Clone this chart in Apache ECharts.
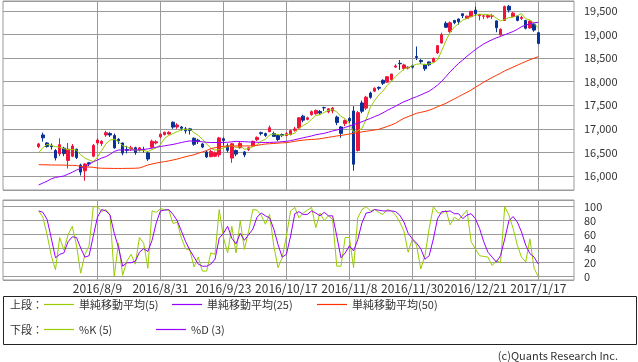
<!DOCTYPE html>
<html><head><meta charset="utf-8">
<script src="https://cdn.jsdelivr.net/npm/echarts@6/dist/echarts.min.js"></script>
<style>html,body{margin:0;padding:0;background:#fff}#c{width:638px;height:362px}</style>
</head><body><div id="c"></div>
<script>
const dates = ['2016/7/20','2016/7/21','2016/7/22','2016/7/25','2016/7/26','2016/7/27','2016/7/28','2016/7/29','2016/8/1','2016/8/2','2016/8/3','2016/8/4','2016/8/5','2016/8/8','2016/8/9','2016/8/10','2016/8/12','2016/8/15','2016/8/16','2016/8/17','2016/8/18','2016/8/19','2016/8/22','2016/8/23','2016/8/24','2016/8/25','2016/8/26','2016/8/29','2016/8/30','2016/8/31','2016/9/1','2016/9/2','2016/9/5','2016/9/6','2016/9/7','2016/9/8','2016/9/9','2016/9/12','2016/9/13','2016/9/14','2016/9/15','2016/9/16','2016/9/20','2016/9/21','2016/9/23','2016/9/26','2016/9/27','2016/9/28','2016/9/29','2016/9/30','2016/10/3','2016/10/4','2016/10/5','2016/10/6','2016/10/7','2016/10/11','2016/10/12','2016/10/13','2016/10/14','2016/10/17','2016/10/18','2016/10/19','2016/10/20','2016/10/21','2016/10/24','2016/10/25','2016/10/26','2016/10/27','2016/10/28','2016/10/31','2016/11/1','2016/11/2','2016/11/4','2016/11/7','2016/11/8','2016/11/9','2016/11/10','2016/11/11','2016/11/14','2016/11/15','2016/11/16','2016/11/17','2016/11/18','2016/11/21','2016/11/22','2016/11/24','2016/11/25','2016/11/28','2016/11/29','2016/11/30','2016/12/1','2016/12/2','2016/12/5','2016/12/6','2016/12/7','2016/12/8','2016/12/9','2016/12/12','2016/12/13','2016/12/14','2016/12/15','2016/12/16','2016/12/19','2016/12/20','2016/12/21','2016/12/22','2016/12/26','2016/12/27','2016/12/28','2016/12/29','2016/12/30','2017/1/4','2017/1/5','2017/1/6','2017/1/10','2017/1/11','2017/1/12','2017/1/13','2017/1/16','2017/1/17'];

const opens = [16625,16870,16700,16640,16540,16470,16590,16330,16420,16570,
16230,16110,16280,16420,16700,16690,16870,16900,16860,16780,
16700,16560,16580,16600,16560,16560,16490,16610,16700,16830,
16880,16890,17140,17040,17040,17000,17000,16800,16760,16680,
16510,16410,16420,16450,16790,16640,16380,16540,16600,16510,
16560,16640,16770,16920,16900,16940,16900,16860,16880,16860,
16880,16970,17020,17270,17200,17300,17320,17370,17450,17360,
17380,17250,17040,17110,17220,17380,16540,17550,17440,17760,
17800,17880,18030,17990,18040,18310,18390,18280,18290,18340,
18535,18450,18360,18420,18420,18610,18820,19240,19060,19300,
19330,19440,19340,19380,19520,19400,19390,19370,19390,19290,
18990,19298,19600,19380,19390,19340,19300,19140,19220,19040];

const closes = [16681,16810,16627,16620,16383,16664,16476,16569,16635,16391,
16083,16254,16254,16650,16764,16735,16919,16869,16596,16745,
16486,16545,16598,16497,16597,16555,16360,16737,16725,16887,
16926,16925,17037,17081,17012,16958,16965,16672,16729,16614,
16405,16519,16492,16807,16754,16544,16683,16465,16693,16449,
16598,16735,16819,16899,16860,17024,16840,16774,16856,16900,
16963,16998,17235,17184,17234,17365,17391,17336,17446,17425,
17442,17134,16905,17177,17171,16251,17344,17374,17672,17668,
17862,17862,17967,18106,18162,18333,18381,18356,18307,18308,
18513,18426,18274,18360,18496,18765,18996,19155,19250,19253,
19273,19401,19391,19494,19444,19427,19396,19403,19401,19145,
19114,19594,19520,19454,19301,19364,19134,19287,19095,18813];

const lows = [16590,16730,16600,16560,16330,16420,16420,16160,16400,16360,
16010,15900,16210,16400,16660,16640,16830,16830,16580,16680,
16440,16480,16530,16450,16520,16500,16320,16600,16670,16800,
16860,16880,17000,17000,16960,16900,16880,16640,16680,16590,
16380,16400,16400,16400,16650,16500,16280,16420,16580,16400,
16530,16620,16740,16860,16830,16930,16830,16740,16830,16840,
16860,16940,17000,17140,17180,17280,17300,17300,17380,17330,
17330,17080,16810,17060,17130,16111,16520,17330,17400,17640,
17780,17820,17930,17980,18020,18290,18250,18240,18260,18280,
18460,18380,18230,18330,18400,18590,18810,19140,19040,19220,
19210,19350,19330,19370,19400,19300,19330,19340,19330,19050,
18980,19290,19470,19370,19280,19310,19110,19120,19060,18790];

const highs = [16700,16920,16720,16690,16570,16800,16620,16700,16680,16580,
16260,16270,16300,16680,16800,16760,16960,16930,16900,16800,
16710,16640,16640,16620,16610,16620,16520,16770,16760,16900,
16940,16950,17160,17120,17060,17040,17020,16820,16790,16700,
16540,16560,16520,16830,16820,16690,16700,16560,16720,16530,
16620,16750,16840,16940,16920,17070,16940,16880,16900,16930,
16980,17040,17250,17300,17260,17390,17410,17400,17470,17440,
17460,17280,17060,17200,17250,17480,17380,17600,17700,17790,
17880,17900,18050,18120,18170,18370,18460,18380,18330,18360,
18746,18480,18380,18430,18510,18780,19040,19280,19280,19310,
19340,19450,19400,19500,19592,19440,19420,19430,19440,19300,
19130,19615,19630,19480,19400,19400,19310,19300,19240,19050];

const ma5 = [16495,16600,16670,16650,16620,16610,16580,16560,16560,16550,
16450,16380,16340,16305,16400,16540,16680,16760,16780,16730,
16640,16620,16570,16550,16545,16540,16520,16560,16600,16660,
16800,16860,16900,16940,16980,16990,16990,16920,16860,16780,
16680,16590,16550,16560,16600,16620,16650,16600,16630,16570,
16580,16620,16660,16740,16780,16870,16890,16880,16860,16880,
16880,16910,17010,17070,17120,17200,17280,17300,17350,17390,
17410,17360,17260,17220,17110,16930,16960,17010,17200,17460,
17600,17720,17800,17920,18010,18110,18190,18270,18300,18340,
18370,18380,18360,18380,18400,18460,18660,18870,19050,19160,
19230,19310,19340,19380,19410,19430,19430,19420,19410,19350,
19290,19320,19360,19370,19400,19445,19335,19310,19236,19139];

const ma25 = [15810,15850,15890,15940,15970,15985,16000,16040,16080,16125,
16160,16200,16250,16300,16340,16380,16410,16460,16520,16550,
16552,16552,16552,16552,16555,16565,16575,16590,16610,16625,
16640,16655,16670,16690,16710,16730,16743,16740,16735,16725,
16715,16710,16710,16710,16712,16715,16725,16735,16732,16728,
16722,16720,16716,16712,16710,16712,16716,16720,16728,16735,
16750,16770,16790,16810,16830,16850,16875,16890,16905,16930,
16955,16976,17000,17030,17061,17090,17120,17150,17188,17220,
17260,17294,17340,17390,17436,17480,17530,17576,17610,17650,
17682,17720,17760,17800,17860,17930,18010,18110,18210,18300,
18390,18460,18540,18610,18680,18743,18800,18849,18890,18930,
18960,18995,19030,19065,19110,19167,19200,19230,19250,19260];

const ma50 = [16240,16238,16236,16234,16232,16232,16230,16228,16226,16222,
16200,16195,16190,16185,16170,16165,16163,16162,16160,16160,
16160,16162,16163,16165,16170,16200,16234,16255,16275,16290,
16305,16320,16340,16360,16385,16410,16430,16450,16482,16510,
16540,16580,16600,16620,16630,16635,16637,16637,16637,16637,
16637,16640,16650,16665,16679,16685,16690,16697,16703,16707,
16720,16735,16749,16760,16770,16775,16780,16790,16805,16820,
16835,16849,16860,16875,16890,16905,16919,16935,16950,16962,
16975,16990,17020,17050,17082,17120,17175,17224,17260,17295,
17330,17350,17370,17395,17430,17470,17505,17542,17590,17635,
17682,17730,17775,17824,17880,17935,17990,18040,18090,18135,
18180,18230,18270,18310,18350,18390,18430,18465,18500,18531];

const stochK = [94,85,60,30,10,56,38,60,72,45,
5,32,44,100,100,93,96,88,1,48,
2,22,32,18,56,48,12,94,92,97,
96,95,76,78,55,40,38,14,28,8,
8,34,32,96,56,34,72,34,80,39,
65,96,95,88,75,89,44,13,27,58,
94,99,84,91,95,99,70,91,80,87,
82,15,15,56,56,13,84,96,100,94,
96,92,89,96,94,88,78,65,35,54,
45,11,30,69,100,92,90,95,74,85,
81,88,95,50,40,30,29,28,16,23,
20,100,88,69,45,28,21,54,12,0];

const stochD = [94,92,82,55,27,32,34,50,57,56,
41,28,30,58,85,96,94,88,62,42,
15,20,20,22,35,40,36,52,77,94,
95,96,89,80,65,50,38,28,18,15,
15,18,25,55,62,72,55,47,62,52,
60,68,85,91,87,84,68,46,28,32,
58,90,93,89,89,94,91,87,92,87,
87,58,27,34,44,37,53,77,91,92,
96,95,94,94,94,93,88,78,62,54,
48,40,25,30,54,83,93,93,94,90,
90,83,88,90,83,69,50,35,28,21,
30,54,80,86,78,64,45,33,28,18];

const dateTickLabels = ['2016/8/9','2016/8/31','2016/9/23','2016/10/17','2016/11/8','2016/11/30','2016/12/21','2017/1/17'];
const upperNames = ['単純移動平均(5)','単純移動平均(25)','単純移動平均(50)'];
const lowerNames = ['%K (5)','%D (3)'];
const upperLabel = '上段：';
const lowerLabel = '下段：';
const copyright = '(c)Quants Research Inc.';

const PAD = 8;
const cats = [];
for (let i = 0; i < PAD; i++) cats.push('pre' + i);
dates.forEach(d => cats.push(d));
for (let i = 0; i < PAD; i++) cats.push('post' + i);

const FONT = "'Noto Sans CJK JP', 'Noto Sans', sans-serif";
const RED = '#f0143c', BLUE = '#0a3296';
const C5 = '#99cc00', C25 = '#9900ff', C50 = '#ff3300';
const GRIDC = '#9a9a9a';

const candleData = dates.map((d, i) => [d, opens[i], closes[i], lows[i], highs[i]]);
const pair = arr => dates.map((d, i) => [d, arr[i]]);
const vLines = {
  silent: true, symbol: 'none', z: 1, animation: false,
  label: { show: false },
  lineStyle: { color: GRIDC, width: 1, type: 'solid' },
  emphasis: { disabled: true },
  data: dateTickLabels.map(d => ({ xAxis: d }))
};

const chart = echarts.init(document.getElementById('c'), null, { renderer: 'canvas' });

const legendEls = [];
legendEls.push({ type: 'rect', shape: { x: 3.5, y: 296.5, width: 633, height: 48 }, style: { fill: 'none', stroke: '#222', lineWidth: 1 } });
const textEl = (x, y, t) => ({ type: 'text', x: x, y: y, style: { text: t, font: '11px ' + FONT, fill: '#333', textVerticalAlign: 'middle', verticalAlign: 'middle' } });
const lineEl = (x1, x2, y, c) => ({ type: 'line', shape: { x1: x1, y1: y, x2: x2, y2: y }, style: { stroke: c, lineWidth: 1.2 } });
const rowY1 = 304.5, rowY2 = 329.5;
legendEls.push(textEl(10, rowY1, upperLabel));
const upColors = [C5, C25, C50];
const upX = [44, 172, 317];
upperNames.forEach((n, i) => { legendEls.push(lineEl(upX[i], upX[i] + 30, rowY1, upColors[i])); legendEls.push(textEl(upX[i] + 35, rowY1, n)); });
legendEls.push(textEl(10, rowY2, lowerLabel));
const loColors = [C5, C25];
const loX = [44, 156];
lowerNames.forEach((n, i) => { legendEls.push(lineEl(loX[i], loX[i] + 30, rowY2, loColors[i])); legendEls.push(textEl(loX[i] + 35, rowY2, n)); });
legendEls.push({ type: 'text', x: 618, y: 356, style: { text: copyright, font: '11px ' + FONT, fill: '#333', align: 'right', textAlign: 'right', verticalAlign: 'middle', textVerticalAlign: 'middle' } });

const axisLabelStyle = { fontFamily: FONT, fontSize: 11, color: '#333' };

chart.setOption({
  animation: false,
  backgroundColor: '#fff',
  textStyle: { fontFamily: FONT },
  grid: [
    { left: 3, right: 64, top: 1, height: 189, show: true, borderColor: GRIDC, borderWidth: 1, backgroundColor: 'transparent' },
    { left: 3, right: 64, top: 200, height: 80, show: true, borderColor: GRIDC, borderWidth: 1, backgroundColor: 'transparent' }
  ],
  xAxis: [
    { type: 'category', gridIndex: 0, data: cats, boundaryGap: true, axisLine: { show: false }, axisTick: { show: false }, axisLabel: { show: false }, splitLine: { show: false } },
    { type: 'category', gridIndex: 1, data: cats, boundaryGap: true, axisLine: { show: false }, axisTick: { show: false }, splitLine: { show: false },
      axisLabel: Object.assign({}, axisLabelStyle, { show: true, fontSize: 12, margin: 2, interval: (idx, val) => dateTickLabels.indexOf(val) >= 0, hideOverlap: false }) }
  ],
  yAxis: [
    { type: 'value', gridIndex: 0, position: 'right', min: 15703, max: 19712, splitNumber: 8,
      axisLine: { show: false }, axisTick: { show: false },
      splitLine: { show: true, lineStyle: { color: GRIDC, width: 1 } },
      axisLabel: Object.assign({ margin: 10, showMinLabel: false, showMaxLabel: false, formatter: v => Number(v).toLocaleString('en-US') }, axisLabelStyle) },
    { type: 'value', gridIndex: 1, position: 'right', min: -4.7, max: 109.6, splitNumber: 6,
      axisLine: { show: false }, axisTick: { show: false },
      splitLine: { show: true, lineStyle: { color: GRIDC, width: 1 } },
      axisLabel: Object.assign({ margin: 10, showMinLabel: false, showMaxLabel: false }, axisLabelStyle) }
  ],
  series: [
    { name: '日足', type: 'candlestick', xAxisIndex: 0, yAxisIndex: 0, data: candleData, encode: { x: 0, y: [1, 2, 3, 4] },
      barWidth: 3, z: 2,
      itemStyle: { color: RED, color0: BLUE, borderColor: RED, borderColor0: BLUE, borderWidth: 1 },
      markLine: vLines },
    { name: upperNames[0], type: 'line', xAxisIndex: 0, yAxisIndex: 0, data: pair(ma5), showSymbol: false, symbol: 'none', z: 3, lineStyle: { color: C5, width: 1 } },
    { name: upperNames[1], type: 'line', xAxisIndex: 0, yAxisIndex: 0, data: pair(ma25), showSymbol: false, symbol: 'none', z: 3, lineStyle: { color: C25, width: 1 } },
    { name: upperNames[2], type: 'line', xAxisIndex: 0, yAxisIndex: 0, data: pair(ma50), showSymbol: false, symbol: 'none', z: 3, lineStyle: { color: C50, width: 1 } },
    { name: lowerNames[0], type: 'line', xAxisIndex: 1, yAxisIndex: 1, data: pair(stochK), showSymbol: false, symbol: 'none', z: 3, lineStyle: { color: C5, width: 1 }, markLine: vLines },
    { name: lowerNames[1], type: 'line', xAxisIndex: 1, yAxisIndex: 1, data: pair(stochD), showSymbol: false, symbol: 'none', z: 3, lineStyle: { color: C25, width: 1 } }
  ],
  graphic: legendEls
});
</script></body></html>
